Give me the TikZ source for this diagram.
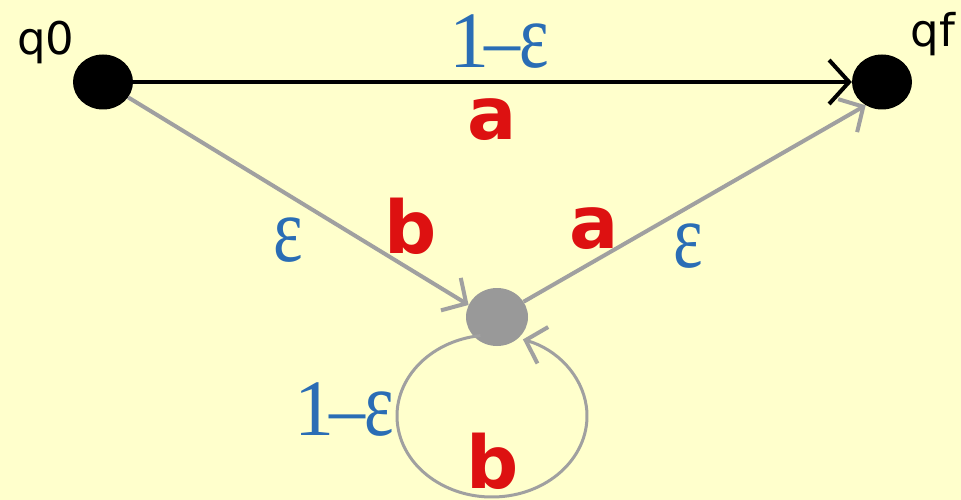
\documentclass[tikz,border=0pt]{standalone}
\usepackage{graphicx}
\usepackage{fontspec}
\usetikzlibrary{shapes.geometric,arrows.meta}
\newfontfamily\lsans{DejaVu Sans}
\newfontfamily\lserif{Liberation Serif}
\definecolor{bg}{HTML}{FFFFCC}
\definecolor{eblue}{HTML}{2A6DB5}
\definecolor{lred}{HTML}{DD1111}
\definecolor{edgegray}{HTML}{A0A0A0}
\definecolor{nodegray}{HTML}{999999}
\newcommand\myeps{\scalebox{0.88}[1.16]{ε}}
\newcommand\omeps{1\kern-5pt\scalebox{0.9}[1]{–}\kern-1pt\myeps}
\begin{document}
\begin{tikzpicture}[x=1pt,y=-1pt,
  state/.style={ellipse, fill=black, minimum width=60pt, minimum height=55pt, inner sep=0pt},
  midstate/.style={ellipse, fill=nodegray, minimum width=62pt, minimum height=58pt, inner sep=0pt},
  blacktr/.style={draw=black, line width=4pt, -{Straight Barb[length=20pt,width=44pt]}},
  graytr/.style={draw=edgegray, line width=4pt, -{Straight Barb[length=18pt,width=38pt]}},
  looptr/.style={draw=edgegray, line width=3pt, -{Straight Barb[length=18pt,width=38pt,line width=4pt]}},
  lbl/.style={anchor=base, inner sep=0pt},
  epslbl/.style={lbl, text=eblue, font=\lserif\fontsize{80}{80}\selectfont},
  symlbl/.style={lbl, text=lred, font=\lsans\bfseries\fontsize{73}{73}\selectfont},
  sname/.style={lbl, text=black, font=\lsans\fontsize{45}{45}\selectfont}]
\fill[bg] (0,0) rectangle (961,500);
\useasboundingbox (0,0) rectangle (961,500);
% states
\node[state] (q0) at (103,82) {};
\node[state] (qf) at (882,82) {};
\node[midstate] (m) at (497,317) {};
\coordinate (loopc) at (492,416);
% state names
\node[sname] (q0name) at (46,55) {q0};
\node[sname] (qfname) at (933,47) {qf};
% transitions
\draw[blacktr] (q0) -- (qf.west);
\draw[graytr] (q0) -- (m.157);
\draw[graytr] (m) -- (qf.235);
\draw[looptr] (loopc) ++(263:95 and 81) arc[start angle=263, end angle=-71, x radius=95, y radius=81];
% labels
\node[epslbl] (t1) at (499,68) {\omeps};
\node[symlbl] (t2) at (492,140) {a};
\node[epslbl] (t3) at (288,261) {\myeps};
\node[symlbl] (t4) at (411,253) {b};
\node[symlbl] (t5) at (594,248) {a};
\node[epslbl] (t6) at (688,267) {\myeps};
\node[epslbl] (t7) at (344,435) {\omeps};
\node[symlbl] (t8) at (493,488) {b};
\end{tikzpicture}
\end{document}
